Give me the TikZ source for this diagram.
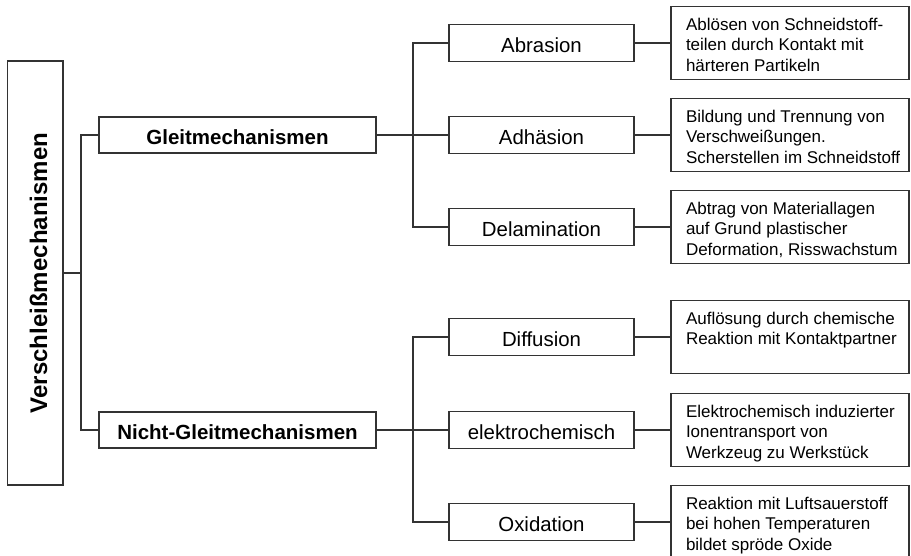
\documentclass[tikz,border=0pt]{standalone}
\usepackage{fontspec}
\setmainfont{Liberation Sans}
\newcommand\desctext[1]{\parbox[c][55pt][t]{214pt}{\hspace*{3pt}\begin{tabular}[t]{@{}l@{}}#1\end{tabular}}}
\begin{document}
\begin{tikzpicture}[x=1pt,y=-1pt,
  box/.style={draw=black!80,line width=1.1pt,inner sep=0pt},
  rootbox/.style={box,rotate=90,minimum width=424pt,minimum height=55.5pt,font=\fontsize{24}{28}\selectfont\bfseries,text height=23.5pt,text depth=0pt},
  groupbox/.style={box,minimum width=277pt,minimum height=36pt,font=\fontsize{20.5}{24}\selectfont\bfseries,text height=18pt,text depth=0pt},
  mechbox/.style={box,minimum width=185pt,minimum height=37pt,font=\fontsize{20.4}{24}\selectfont,text height=18pt,text depth=0pt},
  descbox/.style={box,minimum width=238pt,minimum height=73pt,inner xsep=12pt,inner ysep=9pt,font=\fontsize{17}{20.8}\selectfont},
  link/.style={draw=black!80,line width=1.1pt}]
\useasboundingbox (0,0) rectangle (911,555);
\clip (0,0) rectangle (911,555);
% root and groups
\node[rootbox] (root) at (35.25,273) {Verschleißmechanismen};
\node[groupbox] (gleit) at (237.5,135) {Gleitmechanismen};
\node[groupbox] (nicht) at (237.5,430) {Nicht-Gleitmechanismen};
% mechanisms
\node[mechbox] (abr) at (541.5,43) {Abrasion};
\node[mechbox] (adh) at (541.5,135) {Adhäsion};
\node[mechbox] (dela) at (541.5,227) {Delamination};
\node[mechbox] (diff) at (541.5,337) {Diffusion};
\node[mechbox] (elek) at (541.5,430) {elektrochemisch};
\node[mechbox] (oxid) at (541.5,522) {Oxidation};
% descriptions
\node[descbox] (dabr) at (790,43) {\desctext{Ablösen von Schneidstoff-\\teilen durch Kontakt mit\\härteren Partikeln}};
\node[descbox] (dadh) at (790,135) {\desctext{Bildung und Trennung von\\Verschweißungen.\\Scherstellen im Schneidstoff}};
\node[descbox] (ddela) at (790,227) {\desctext{Abtrag von Materiallagen\\auf Grund plastischer\\Deformation, Risswachstum}};
\node[descbox] (ddiff) at (790,337) {\desctext{Auflösung durch chemische\\Reaktion mit Kontaktpartner}};
\node[descbox] (delek) at (790,430) {\desctext{Elektrochemisch induzierter\\Ionentransport von\\Werkzeug zu Werkstück}};
\node[descbox] (doxid) at (790,522) {\desctext{Reaktion mit Luftsauerstoff\\bei hohen Temperaturen\\bildet spröde Oxide}};
% connectors
\coordinate (bus1) at (81,273);
\coordinate (bus2) at (413,135);
\coordinate (bus3) at (413,430);
\draw[link] (root.south) -- (bus1);
\draw[link] (gleit.west) -| (bus1) |- (nicht.west);
\draw[link] (gleit.east) -- (adh.west);
\draw[link] (abr.west) -| (bus2) |- (dela.west);
\draw[link] (nicht.east) -- (elek.west);
\draw[link] (diff.west) -| (bus3) |- (oxid.west);
\foreach \m/\d in {abr/dabr,adh/dadh,dela/ddela,diff/ddiff,elek/delek,oxid/doxid}
  \draw[link] (\m.east) -- (\d.west);
\end{tikzpicture}
\end{document}
